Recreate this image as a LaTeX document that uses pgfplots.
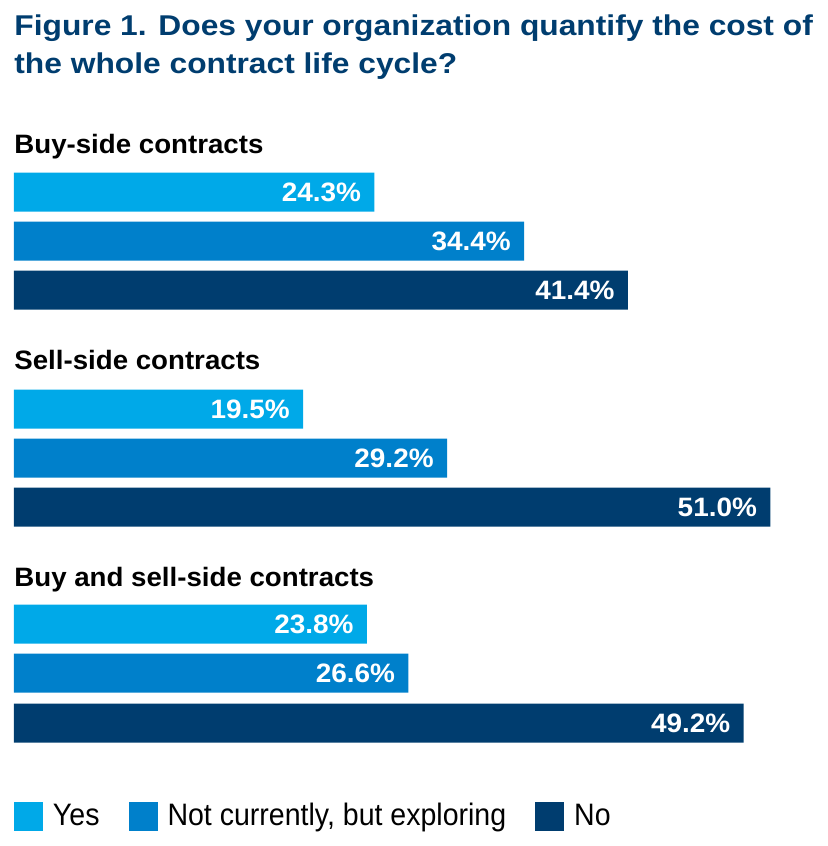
\documentclass[border=0pt]{standalone}
\usepackage{fontspec}
\setmainfont{Liberation Sans}
\newfontfamily\titlefont[FakeStretch=1.11]{Liberation Sans}
\newfontfamily\groupfont[FakeStretch=1.04]{Liberation Sans}
\newfontfamily\labelfont[FakeStretch=1.05]{Liberation Sans}
\newfontfamily\legendfont[FakeStretch=0.92]{Liberation Sans}
\usepackage{pgfplots}
\pgfplotsset{compat=1.18}

\definecolor{cYes}{HTML}{00A9E8}
\definecolor{cExpl}{HTML}{0080CB}
\definecolor{cNo}{HTML}{003D6F}
\definecolor{cTitle}{HTML}{003D6F}

% 1 px of the reference = 0.5pt; x in percent, y in px (downwards)
\begin{document}
\begin{tikzpicture}
\begin{axis}[
  scale only axis, width=414pt, height=423pt,
  xmin=-0.944, xmax=54.89, ymin=0, ymax=846, y dir=reverse,
  axis lines=none, ticks=none, clip=false,
  xbar, bar width=39, point meta=x,
  nodes near coords={\pgfmathprintnumber[fixed,fixed zerofill,precision=1,assume math mode=true]{\pgfplotspointmeta}\%},
  nodes near coords style={anchor=east, inner sep=0pt, xshift=-6.5pt,
    text=white, font=\labelfont\fontsize{13.3pt}{15pt}\selectfont\bfseries},
  legend columns=3,
  legend style={at={(axis cs:0,816)}, anchor=west, draw=none, fill=none,
    inner sep=0pt, outer sep=0pt, font=\legendfont\fontsize{15.5pt}{17pt}\selectfont,
    nodes={inner sep=0pt},
    /tikz/every odd column/.append style={column sep=5pt},
    /tikz/every even column/.append style={column sep=14.5pt}},
  legend image code/.code={\fill[#1] (0pt,-7.25pt) rectangle (14.5pt,7.25pt);},
]
\addplot[fill=cYes, draw=none, bar shift=0pt]  coordinates {(24.3,192) (19.5,409) (23.8,624)};
\addplot[fill=cExpl, draw=none, bar shift=0pt] coordinates {(34.4,241) (29.2,458) (26.6,673)};
\addplot[fill=cNo, draw=none, bar shift=0pt]   coordinates {(41.4,290) (51.0,507) (49.2,723)};
\legend{Yes, {Not currently, but exploring}, No}

\path (axis cs:-0.944,0) rectangle (axis cs:54.89,846);
\begin{scope}[every node/.style={anchor=base west, inner sep=0pt}]
\node[text=cTitle, font=\titlefont\fontsize{14.3pt}{17pt}\selectfont\bfseries] at (axis cs:0,35) {Figure 1. Does your organization quantify the cost of};
\node[text=cTitle, font=\titlefont\fontsize{14.3pt}{17pt}\selectfont\bfseries] at (axis cs:0,73.5) {the whole contract life cycle?};
\node[font=\groupfont\fontsize{13.3pt}{16pt}\selectfont\bfseries] at (axis cs:0,153) {Buy-side contracts};
\node[font=\groupfont\fontsize{13.3pt}{16pt}\selectfont\bfseries] at (axis cs:0,369) {Sell-side contracts};
\node[font=\groupfont\fontsize{13.3pt}{16pt}\selectfont\bfseries] at (axis cs:0,586) {Buy and sell-side contracts};
\end{scope}
\end{axis}
\end{tikzpicture}
\end{document}
